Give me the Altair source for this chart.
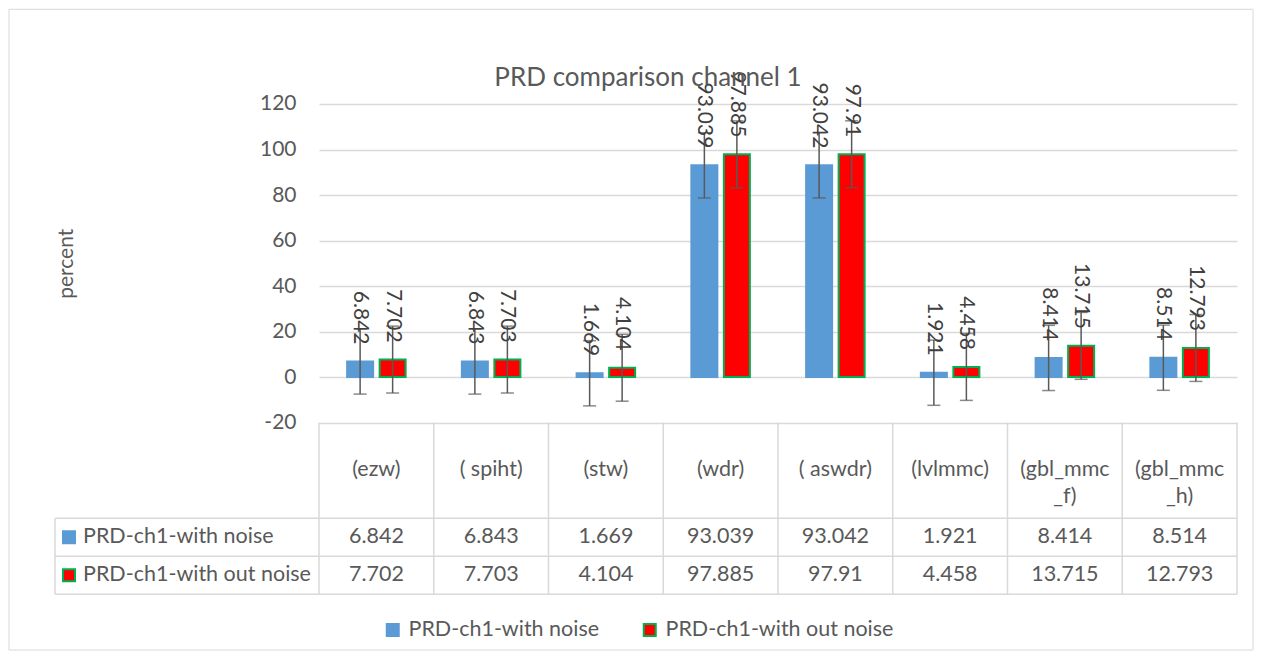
import altair as alt
import numpy as np
import pandas as pd

# ---------------- data ----------------
CATEGORIES = ["(ezw)", "( spiht)", "(stw)", "(wdr)", "( aswdr)", "(lvlmmc)", "(gbl_mmc_f)", "(gbl_mmc_h)"]
HEADER_LABELS = ["(ezw)", "( spiht)", "(stw)", "(wdr)", "( aswdr)", "(lvlmmc)", "(gbl_mmc\n_f)", "(gbl_mmc\n_h)"]
SERIES = ["PRD-ch1-with noise", "PRD-ch1-with out noise"]
WITH_NOISE = [6.842, 6.843, 1.669, 93.039, 93.042, 1.921, 8.414, 8.514]
WITHOUT_NOISE = [7.702, 7.703, 4.104, 97.885, 97.91, 4.458, 13.715, 12.793]
Y_TICKS = [-20, 0, 20, 40, 60, 80, 100, 120]
TITLE = "PRD comparison channel 1"
Y_TITLE = "percent"

# ---------------- style ----------------
FONT = "Lato"
TXT = "#595959"
GRID = "#d9d9d9"
FILLS = ["#5B9BD5", "#FF0000"]
STROKES = ["#5B9BD5", "#00B050"]
FS_AXIS = 21
FS_TABLE = 21.5

# layout (pixels relative to the plot origin)
W, H = 918, 318.6
HDR_Y = 366.3
ROW_LINES = [414.3, 452.3, 490.3]
ROW_CENTERS = [433.3, 471.3]
LEFT_X = -264
SQ_X = -250
LABEL_X = -236

# ---------------- tables ----------------
rows = []
for s, vals in zip(SERIES, [WITH_NOISE, WITHOUT_NOISE]):
    se = float(np.std(vals, ddof=1) / np.sqrt(len(vals)))  # Excel "standard error" bars
    for c, v in zip(CATEGORIES, vals):
        rows.append(dict(cat=c, series=s, value=v, label=f"{v:g}", lo=v - se, hi=v + se))
df = pd.DataFrame(rows)
hdr = pd.DataFrame({"cat": CATEGORIES, "hdr": HEADER_LABELS})
ser = pd.DataFrame({"series": SERIES})
one = pd.DataFrame({"t": [TITLE]})

LEG = alt.Legend(orient="none", legendX=63, legendY=515, direction="horizontal", title=None,
                 symbolType="square", symbolSize=144, symbolStrokeWidth=2,
                 labelFont=FONT, labelFontSize=FS_TABLE, labelColor=TXT, labelOffset=5, labelLimit=0,
                 columnPadding=39, padding=0)
fill = alt.Fill("series:N", scale=alt.Scale(domain=SERIES, range=FILLS), legend=LEG)
stroke = alt.Stroke("series:N", scale=alt.Scale(domain=SERIES, range=STROKES), legend=LEG)

x_main = alt.X("cat:N", sort=CATEGORIES,
               scale=alt.Scale(domain=CATEGORIES, paddingInner=0.49, paddingOuter=0.245), axis=None)
xoff = alt.XOffset("series:N", sort=SERIES,
                   scale=alt.Scale(domain=SERIES, paddingInner=0.2, paddingOuter=0))
yscale = alt.Scale(domain=[-20, 120], nice=False, zero=False)
YAX = alt.Axis(values=Y_TICKS, title=Y_TITLE, grid=True, gridColor=GRID, gridWidth=1.5,
               domain=False, ticks=False, labelPadding=23, labelFont=FONT,
               labelExpr="'' + datum.value",
               labelFontSize=FS_AXIS, labelColor=TXT, titleFont=FONT, titleFontSize=FS_AXIS,
               titleColor=TXT, titleFontWeight="normal", titlePadding=183)


def yq(field):
    return alt.Y(f"{field}:Q", scale=yscale, axis=YAX, title=Y_TITLE)


base = alt.Chart(df)
bars = base.mark_bar(strokeWidth=2).encode(x=x_main, xOffset=xoff, y=yq("value"), y2=alt.datum(0),
                                           fill=fill, stroke=stroke)
err = base.mark_rule(color=TXT, strokeWidth=1.5).encode(
    x=x_main, xOffset=xoff, y=yq("lo"), y2="hi:Q")
cap_lo = base.mark_tick(orient="horizontal", size=13, thickness=1.5, color=TXT).encode(
    x=x_main, xOffset=xoff, y=yq("lo"))
cap_hi = base.mark_tick(orient="horizontal", size=13, thickness=1.5, color=TXT).encode(
    x=x_main, xOffset=xoff, y=yq("hi"))
labels = base.mark_text(angle=90, align="right", baseline="middle", dx=-17, font=FONT,
                        fontSize=FS_AXIS, color="#404040").encode(
    x=x_main, xOffset=xoff, y=yq("value"), text="label:N")

title = alt.Chart(one).mark_text(font=FONT, fontSize=26, color=TXT, align="center",
                                 baseline="middle").encode(
    x=alt.value(329), y=alt.value(-25.7), text="t:N")
border = alt.Chart(one).mark_rect(fill="transparent", stroke=GRID, strokeWidth=1).encode(
    x=alt.value(-310), x2=alt.value(934), y=alt.value(-94.7), y2=alt.value(546))

main = alt.layer(border, bars, err, cap_lo, cap_hi, labels, title)

# ---------------- data table ----------------
x_tab = alt.X("cat:N", sort=CATEGORIES,
              scale=alt.Scale(domain=CATEGORIES, paddingInner=0, paddingOuter=0), axis=None)
y_tab = alt.Y("series:N", sort=SERIES,
              scale=alt.Scale(type="point", domain=SERIES, range=ROW_CENTERS, padding=0), axis=None)

vlines = alt.Chart(hdr).mark_rule(color=GRID, strokeWidth=1.5).encode(
    x=alt.X("cat:N", sort=CATEGORIES, bandPosition=0,
            scale=alt.Scale(domain=CATEGORIES, paddingInner=0, paddingOuter=0), axis=None),
    y=alt.value(H), y2=alt.value(ROW_LINES[-1]))
vline_end = alt.Chart(hdr).transform_filter(
    alt.datum.cat == CATEGORIES[-1]).mark_rule(color=GRID, strokeWidth=1.5).encode(
    x=alt.X("cat:N", sort=CATEGORIES, bandPosition=1,
            scale=alt.Scale(domain=CATEGORIES, paddingInner=0, paddingOuter=0), axis=None),
    y=alt.value(H), y2=alt.value(ROW_LINES[-1]))
vline_left = alt.Chart(one).mark_rule(color=GRID, strokeWidth=1.5).encode(
    x=alt.value(LEFT_X), y=alt.value(ROW_LINES[0]), y2=alt.value(ROW_LINES[-1]))
hlines = [alt.Chart(one).mark_rule(color=GRID, strokeWidth=1.5).encode(
    x=alt.value(LEFT_X), x2=alt.value(W), y=alt.value(yy)) for yy in ROW_LINES]

hdr_text = alt.Chart(hdr).mark_text(font=FONT, fontSize=FS_TABLE, color=TXT, lineBreak="\n",
                                    lineHeight=27, baseline="middle").encode(
    x=x_tab, y=alt.value(HDR_Y), text="hdr:N")
val_text = base.mark_text(font=FONT, fontSize=FS_TABLE, color=TXT, baseline="middle").encode(
    x=x_tab, y=y_tab, text="label:N")
squares = alt.Chart(ser).mark_square(size=144, strokeWidth=2, opacity=1).encode(
    x=alt.value(SQ_X), y=y_tab, fill=fill, stroke=stroke)
row_text = alt.Chart(ser).mark_text(font=FONT, fontSize=FS_TABLE, color=TXT, align="left",
                                    baseline="middle").encode(
    x=alt.value(LABEL_X), y=y_tab, text="series:N")

table = alt.layer(vlines, vline_end, vline_left, *hlines, hdr_text, val_text, squares, row_text)

chart = alt.layer(main, table).resolve_scale(x="independent", y="independent").properties(
    width=W, height=H, padding=0
).configure_view(stroke=None)

chart.save("out.html", embed_options={"renderer": "svg", "actions": False})
